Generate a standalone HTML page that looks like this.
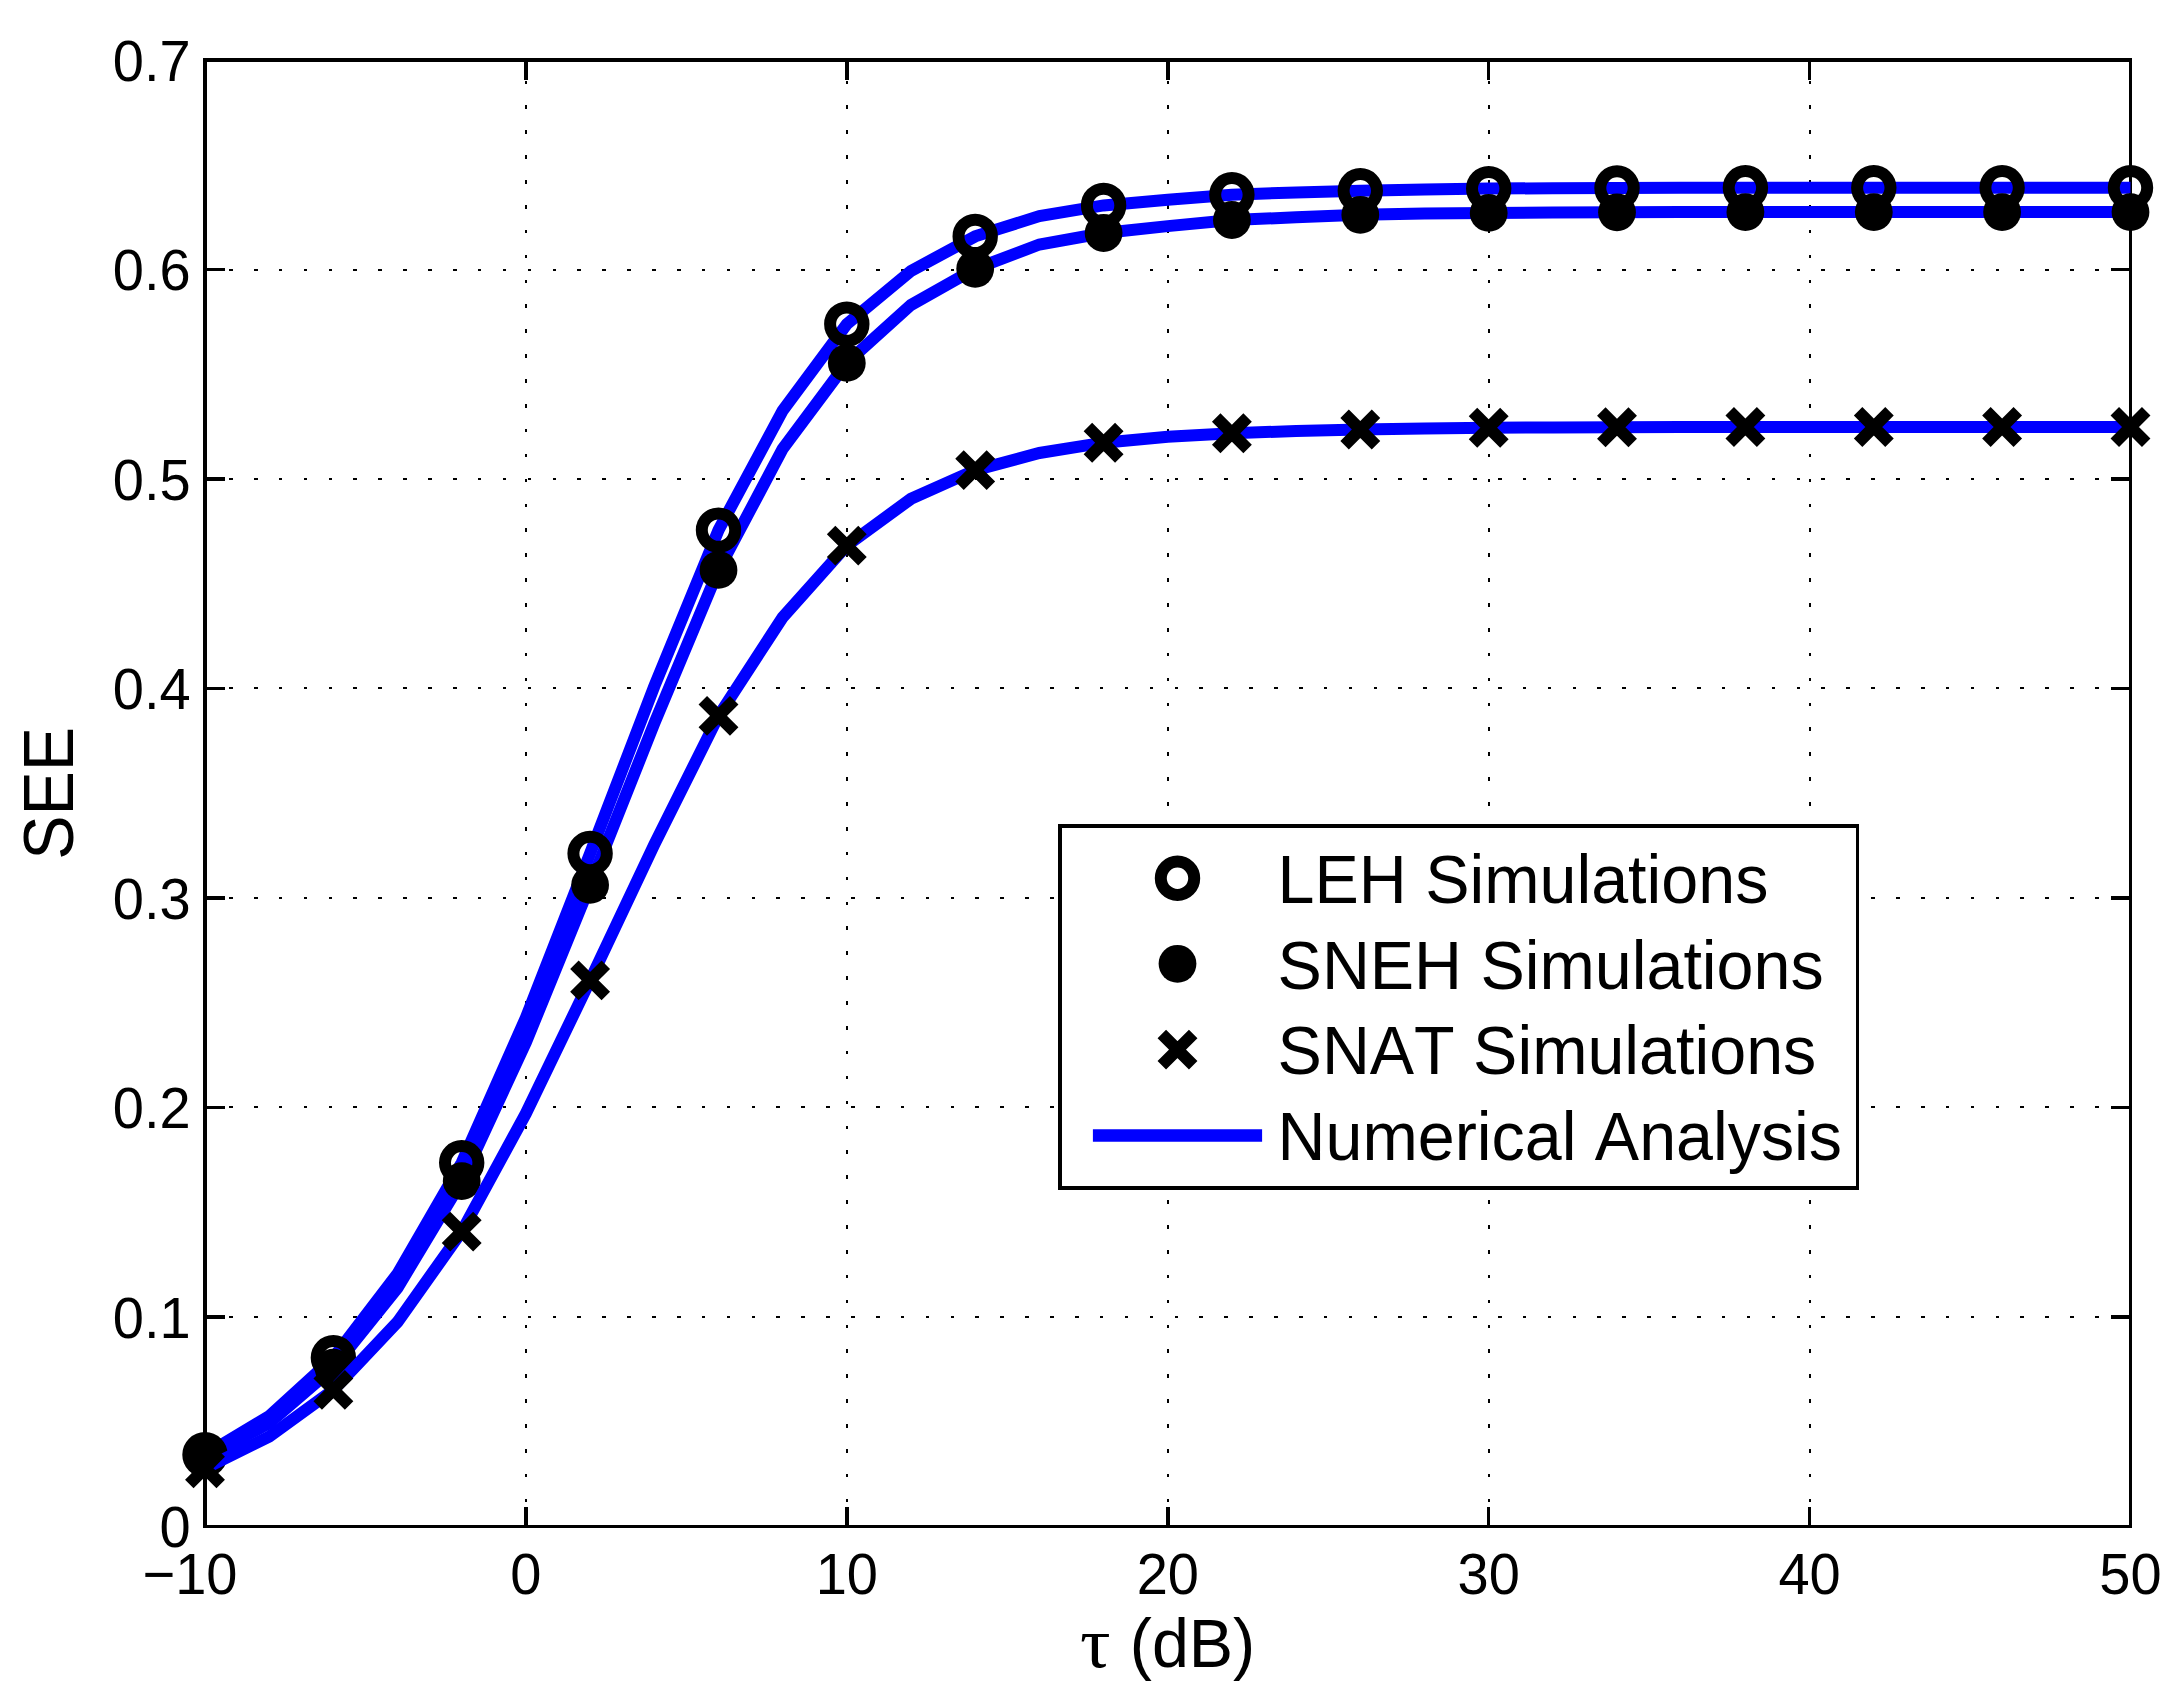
<!DOCTYPE html>
<html lang="en"><head><meta charset="utf-8"><title>SEE versus tau (dB)</title>
<style>html,body{margin:0;padding:0;background:#fff}body{width:2182px;height:1702px;overflow:hidden}svg{display:block}text{font-family:"Liberation Sans",Arial,Helvetica,sans-serif;fill:#000;font-kerning:none;font-variant-ligatures:none}.t{font-size:56px}.l{font-size:66.4px}.g{font-family:"Liberation Serif","DejaVu Serif",serif;font-size:72.5px}</style></head><body>
<svg width="2182" height="1702" viewBox="0 0 2182 1702">
<rect width="2182" height="1702" fill="#fff"/>
<g stroke="#000" stroke-width="2" fill="none" stroke-dasharray="3.60 21.28" stroke-dashoffset="1.80" shape-rendering="crispEdges">
<line x1="525.9" y1="1525.4" x2="525.9" y2="60.0"/>
<line x1="846.8" y1="1525.4" x2="846.8" y2="60.0"/>
<line x1="1167.8" y1="1525.4" x2="1167.8" y2="60.0"/>
<line x1="1488.7" y1="1525.4" x2="1488.7" y2="60.0"/>
<line x1="1809.6" y1="1525.4" x2="1809.6" y2="60.0"/>
<line x1="206.0" y1="1316.8" x2="2130.5" y2="1316.8"/>
<line x1="206.0" y1="1107.4" x2="2130.5" y2="1107.4"/>
<line x1="206.0" y1="897.9" x2="2130.5" y2="897.9"/>
<line x1="206.0" y1="688.4" x2="2130.5" y2="688.4"/>
<line x1="206.0" y1="478.9" x2="2130.5" y2="478.9"/>
<line x1="206.0" y1="269.5" x2="2130.5" y2="269.5"/>
</g>
<g stroke="#000" stroke-width="3.5" fill="none" shape-rendering="crispEdges">
<path stroke="none" fill="#000" d="M203 58H2132V62H203zM203 1525H2132V1528H203zM203 58H207V1528H203zM2129 58H2132V1528H2129z"/>
<path d="M525.9 1526.3v-19.5M525.9 60.0v19.5"/>
<path d="M846.8 1526.3v-19.5M846.8 60.0v19.5"/>
<path d="M1167.8 1526.3v-19.5M1167.8 60.0v19.5"/>
<path d="M1488.7 1526.3v-19.5M1488.7 60.0v19.5"/>
<path d="M1809.6 1526.3v-19.5M1809.6 60.0v19.5"/>
<path d="M205.0 1316.8h19.5M2130.5 1316.8h-19.5"/>
<path d="M205.0 1107.4h19.5M2130.5 1107.4h-19.5"/>
<path d="M205.0 897.9h19.5M2130.5 897.9h-19.5"/>
<path d="M205.0 688.4h19.5M2130.5 688.4h-19.5"/>
<path d="M205.0 478.9h19.5M2130.5 478.9h-19.5"/>
<path d="M205.0 269.5h19.5M2130.5 269.5h-19.5"/>
</g>
<g>
<polyline points="205.0,1454.7 269.2,1416.1 333.4,1357.7 397.6,1273.7 461.7,1162.7 525.9,1017.7 590.1,853.5 654.3,686.3 718.5,530.1 782.6,410.7 846.8,324.1 911.0,270.9 975.2,236.4 1039.4,216.1 1103.6,205.4 1167.8,199.7 1231.9,194.7 1296.1,192.4 1360.3,190.7 1424.5,189.5 1488.7,188.6 1552.8,188.2 1617.0,188.0 1681.2,187.8 1745.4,187.8 1809.6,187.8 1873.8,187.8 1938.0,187.8 2002.1,187.8 2066.3,187.8 2130.5,187.8" fill="none" stroke="#00f" stroke-width="12.0" stroke-linejoin="miter"/>
<polyline points="205.0,1458.2 269.2,1423.0 333.4,1367.7 397.6,1287.7 461.7,1181.1 525.9,1042.4 590.1,884.9 654.3,723.4 718.5,569.9 782.6,449.0 846.8,362.9 911.0,304.9 975.2,268.8 1039.4,244.5 1103.6,233.0 1167.8,226.1 1231.9,220.0 1296.1,217.3 1360.3,214.8 1424.5,213.5 1488.7,212.9 1552.8,212.5 1617.0,212.3 1681.2,212.1 1745.4,212.1 1809.6,212.1 1873.8,212.1 1938.0,212.1 2002.1,212.1 2066.3,212.1 2130.5,212.1" fill="none" stroke="#00f" stroke-width="12.0" stroke-linejoin="miter"/>
<circle cx="205.0" cy="1454.7" r="16.7" fill="none" stroke="#000" stroke-width="12.0"/>
<circle cx="333.4" cy="1357.7" r="16.7" fill="none" stroke="#000" stroke-width="12.0"/>
<circle cx="461.7" cy="1162.7" r="16.7" fill="none" stroke="#000" stroke-width="12.0"/>
<circle cx="590.1" cy="853.5" r="16.7" fill="none" stroke="#000" stroke-width="12.0"/>
<circle cx="718.5" cy="530.1" r="16.7" fill="none" stroke="#000" stroke-width="12.0"/>
<circle cx="846.8" cy="324.1" r="16.7" fill="none" stroke="#000" stroke-width="12.0"/>
<circle cx="975.2" cy="236.4" r="16.7" fill="none" stroke="#000" stroke-width="12.0"/>
<circle cx="1103.6" cy="205.4" r="16.7" fill="none" stroke="#000" stroke-width="12.0"/>
<circle cx="1231.9" cy="194.7" r="16.7" fill="none" stroke="#000" stroke-width="12.0"/>
<circle cx="1360.3" cy="190.7" r="16.7" fill="none" stroke="#000" stroke-width="12.0"/>
<circle cx="1488.7" cy="188.6" r="16.7" fill="none" stroke="#000" stroke-width="12.0"/>
<circle cx="1617.0" cy="188.0" r="16.7" fill="none" stroke="#000" stroke-width="12.0"/>
<circle cx="1745.4" cy="187.8" r="16.7" fill="none" stroke="#000" stroke-width="12.0"/>
<circle cx="1873.8" cy="187.8" r="16.7" fill="none" stroke="#000" stroke-width="12.0"/>
<circle cx="2002.1" cy="187.8" r="16.7" fill="none" stroke="#000" stroke-width="12.0"/>
<circle cx="2130.5" cy="187.8" r="16.7" fill="none" stroke="#000" stroke-width="12.0"/>
<circle cx="205.0" cy="1458.2" r="18.9" fill="#000"/>
<circle cx="333.4" cy="1367.7" r="18.9" fill="#000"/>
<circle cx="461.7" cy="1181.1" r="18.9" fill="#000"/>
<circle cx="590.1" cy="884.9" r="18.9" fill="#000"/>
<circle cx="718.5" cy="569.9" r="18.9" fill="#000"/>
<circle cx="846.8" cy="362.9" r="18.9" fill="#000"/>
<circle cx="975.2" cy="268.8" r="18.9" fill="#000"/>
<circle cx="1103.6" cy="233.0" r="18.9" fill="#000"/>
<circle cx="1231.9" cy="220.0" r="18.9" fill="#000"/>
<circle cx="1360.3" cy="214.8" r="18.9" fill="#000"/>
<circle cx="1488.7" cy="212.9" r="18.9" fill="#000"/>
<circle cx="1617.0" cy="212.3" r="18.9" fill="#000"/>
<circle cx="1745.4" cy="212.1" r="18.9" fill="#000"/>
<circle cx="1873.8" cy="212.1" r="18.9" fill="#000"/>
<circle cx="2002.1" cy="212.1" r="18.9" fill="#000"/>
<circle cx="2130.5" cy="212.1" r="18.9" fill="#000"/>
<polyline points="205.0,1468.3 269.2,1436.6 333.4,1389.9 397.6,1321.9 461.7,1231.6 525.9,1113.4 590.1,980.4 654.3,844.5 718.5,715.9 782.6,617.4 846.8,545.6 911.0,498.8 975.2,470.1 1039.4,453.0 1103.6,442.7 1167.8,436.8 1231.9,433.3 1296.1,431.0 1360.3,429.5 1424.5,428.5 1488.7,427.8 1552.8,427.4 1617.0,427.2 1681.2,427.0 1745.4,427.0 1809.6,427.0 1873.8,427.0 1938.0,427.0 2002.1,427.0 2066.3,427.0 2130.5,427.0" fill="none" stroke="#00f" stroke-width="12.0" stroke-linejoin="miter"/>
<path d="M189.3 1452.6L220.7 1484.0M189.3 1484.0L220.7 1452.6" stroke="#000" stroke-width="12.0" fill="none"/>
<path d="M317.7 1374.2L349.1 1405.6M317.7 1405.6L349.1 1374.2" stroke="#000" stroke-width="12.0" fill="none"/>
<path d="M446.0 1215.9L477.4 1247.3M446.0 1247.3L477.4 1215.9" stroke="#000" stroke-width="12.0" fill="none"/>
<path d="M574.4 964.7L605.8 996.1M574.4 996.1L605.8 964.7" stroke="#000" stroke-width="12.0" fill="none"/>
<path d="M702.8 700.2L734.2 731.6M702.8 731.6L734.2 700.2" stroke="#000" stroke-width="12.0" fill="none"/>
<path d="M831.1 529.9L862.5 561.3M831.1 561.3L862.5 529.9" stroke="#000" stroke-width="12.0" fill="none"/>
<path d="M959.5 454.4L990.9 485.8M959.5 485.8L990.9 454.4" stroke="#000" stroke-width="12.0" fill="none"/>
<path d="M1087.9 427.0L1119.3 458.4M1087.9 458.4L1119.3 427.0" stroke="#000" stroke-width="12.0" fill="none"/>
<path d="M1216.2 417.6L1247.6 449.0M1216.2 449.0L1247.6 417.6" stroke="#000" stroke-width="12.0" fill="none"/>
<path d="M1344.6 413.8L1376.0 445.2M1344.6 445.2L1376.0 413.8" stroke="#000" stroke-width="12.0" fill="none"/>
<path d="M1473.0 412.1L1504.4 443.5M1473.0 443.5L1504.4 412.1" stroke="#000" stroke-width="12.0" fill="none"/>
<path d="M1601.3 411.5L1632.7 442.9M1601.3 442.9L1632.7 411.5" stroke="#000" stroke-width="12.0" fill="none"/>
<path d="M1729.7 411.3L1761.1 442.7M1729.7 442.7L1761.1 411.3" stroke="#000" stroke-width="12.0" fill="none"/>
<path d="M1858.1 411.3L1889.5 442.7M1858.1 442.7L1889.5 411.3" stroke="#000" stroke-width="12.0" fill="none"/>
<path d="M1986.4 411.3L2017.8 442.7M1986.4 442.7L2017.8 411.3" stroke="#000" stroke-width="12.0" fill="none"/>
<path d="M2114.8 411.3L2146.2 442.7M2114.8 442.7L2146.2 411.3" stroke="#000" stroke-width="12.0" fill="none"/>
</g>
<g class="t">
<text transform="translate(190.6 1547.1) scale(1.000 1.030)" text-anchor="end">0</text>
<text transform="translate(190.6 1337.6) scale(1.000 1.030)" text-anchor="end">0.1</text>
<text transform="translate(190.6 1128.2) scale(1.000 1.030)" text-anchor="end">0.2</text>
<text transform="translate(190.6 918.7) scale(1.000 1.030)" text-anchor="end">0.3</text>
<text transform="translate(190.6 709.2) scale(1.000 1.030)" text-anchor="end">0.4</text>
<text transform="translate(190.6 499.7) scale(1.000 1.030)" text-anchor="end">0.5</text>
<text transform="translate(190.6 290.3) scale(1.000 1.030)" text-anchor="end">0.6</text>
<text transform="translate(190.6 80.8) scale(1.000 1.030)" text-anchor="end">0.7</text>
<text transform="translate(142.5 1593.5) scale(1.000 1.030)">−10</text>
<text transform="translate(525.9 1593.5) scale(1.000 1.030)" text-anchor="middle">0</text>
<text transform="translate(846.8 1593.5) scale(1.000 1.030)" text-anchor="middle">10</text>
<text transform="translate(1167.8 1593.5) scale(1.000 1.030)" text-anchor="middle">20</text>
<text transform="translate(1488.7 1593.5) scale(1.000 1.030)" text-anchor="middle">30</text>
<text transform="translate(1809.6 1593.5) scale(1.000 1.030)" text-anchor="middle">40</text>
<text transform="translate(2130.5 1593.5) scale(1.000 1.030)" text-anchor="middle">50</text>
</g>
<g class="l">
<text transform="translate(1080.1 1667.3) scale(1.050 1.000)" class="g">τ</text>
<text transform="translate(1129.8 1667.0) scale(1.000 1.020)">(dB)</text>
<text transform="translate(73.2 793.4) rotate(-90) scale(1.000 1.050)" text-anchor="middle">SEE</text>
</g>
<path shape-rendering="crispEdges" fill="#fff" d="M1058 824H1859V1190H1058z"/><path shape-rendering="crispEdges" fill="#000" d="M1058 824H1859V828H1058zM1058 1186H1859V1190H1058zM1058 824H1062V1190H1058zM1856 824H1859V1190H1856z"/>
<circle cx="1177.5" cy="878.3" r="16.7" fill="none" stroke="#000" stroke-width="12.0"/>
<circle cx="1177.5" cy="963.8" r="18.9" fill="#000"/>
<path d="M1161.8 1033.9L1193.2 1065.3M1161.8 1065.3L1193.2 1033.9" stroke="#000" stroke-width="12.0" fill="none"/>
<line x1="1092.9" y1="1135.5" x2="1262.1" y2="1135.5" stroke="#00f" stroke-width="12.6"/>
<g class="l">
<text transform="translate(1277.6 902.7) scale(1.000 1.030)">LEH Simulations</text>
<text transform="translate(1277.6 988.5) scale(1.000 1.030)">SNEH Simulations</text>
<text transform="translate(1277.6 1074.3) scale(1.000 1.030)">SNAT Simulations</text>
<text transform="translate(1277.6 1159.8) scale(1.000 1.030)">Numerical Analysis</text>
</g>
</svg></body></html>
